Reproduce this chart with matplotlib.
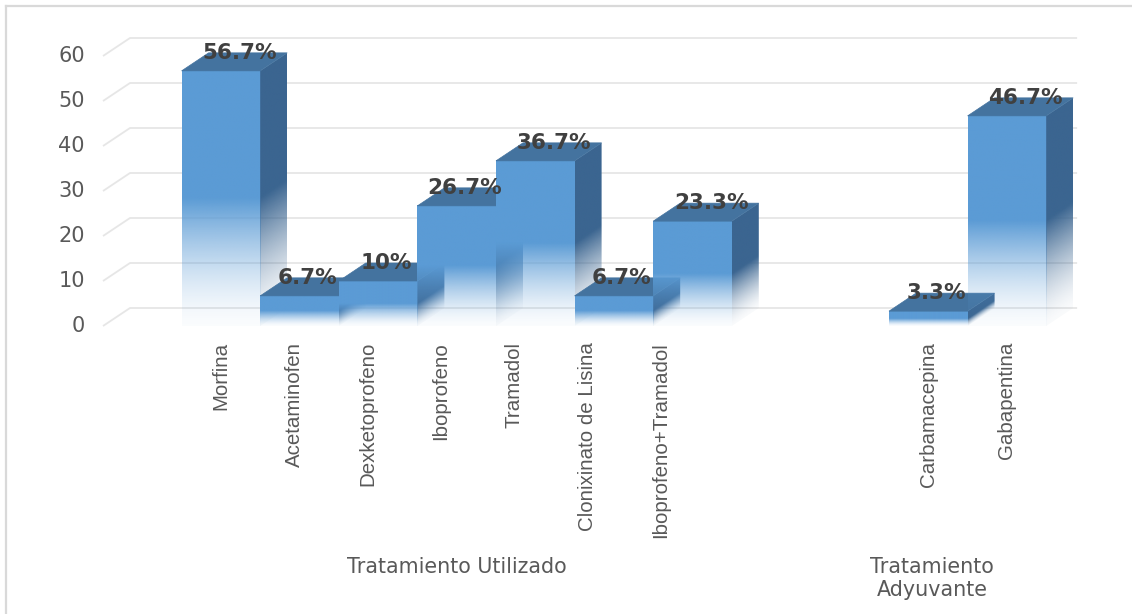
import numpy as np
import matplotlib
matplotlib.use("Agg")
import matplotlib.pyplot as plt
from matplotlib.patches import Polygon
from matplotlib.lines import Line2D
from matplotlib.colors import to_rgb

# ---------------- data ----------------
categories = ["Morfina", "Acetaminofen", "Dexketoprofeno", "Iboprofeno", "Tramadol",
              "Clonixinato de Lisina", "Iboprofeno+Tramadol",
              "Carbamacepina", "Gabapentina"]
values = [56.7, 6.7, 10, 26.7, 36.7, 6.7, 23.3, 3.3, 46.7]
value_labels = ["56.7%", "6.7%", "10%", "26.7%", "36.7%", "6.7%", "23.3%", "3.3%", "46.7%"]
groups = ["Tratamiento Utilizado", "Tratamiento\nAdyuvante"]
group_sizes = [7, 2]
yticks = [0, 10, 20, 30, 40, 50, 60]

# ---------------- layout / style ----------------
W, H, DPI = 1132, 614, 100
SLOT_PX = 78.6          # width of one category slot in pixels
X0_PX = 103             # front-left corner of the plot (px)
Y0_PX = 326             # value 0 on front plane (px from top)
UNIT_PX = 4.5           # pixels per value unit
DX = 27 / SLOT_PX       # depth offset in slot units
DY = 18 / UNIT_PX       # depth offset in value units
GAP_SLOTS = 2

FRONT = np.array(to_rgb("#5B9BD5"))
TOP = "#44739F"
SIDE = np.array(to_rgb("#3B6590"))
GRID = "#E6E6E6"
TXT = "#595959"
LBL = "#404040"

fig = plt.figure(figsize=(W / DPI, H / DPI), dpi=DPI)
ax = fig.add_axes([0, 0, 1, 1])
ax.set_xlim(-X0_PX / SLOT_PX, (W - X0_PX) / SLOT_PX)
ax.set_ylim((Y0_PX - H) / UNIT_PX, Y0_PX / UNIT_PX)
ax.axis("off")

def px_y(p):
    return (Y0_PX - p) / UNIT_PX

# slot positions
positions = []
group_starts = []
slot = 1
for n in group_sizes:
    group_starts.append(slot)
    positions.extend(range(slot, slot + n))
    slot += n + GAP_SLOTS
n_slots = positions[-1] + 1

# gridlines (back wall + left diagonal)
for v in yticks:
    ax.plot([0, DX, n_slots + DX + 0.05], [v, v + DY, v + DY],
            color=GRID, lw=1.3, zorder=1, solid_capstyle="butt")
    ax.text(-0.23, v, f"{v}", ha="right", va="center", fontsize=15,
            color=TXT, family="DejaVu Sans")

def fade(f, base):
    """RGBA gradient: solid on the upper half, fading to transparent below."""
    a = np.where(f >= 0.5, 1.0, np.clip(f / 0.5, 0, 1) ** 1.5)
    a = 0.03 + 0.97 * a
    rgba = np.empty(f.shape + (4,))
    rgba[..., :3] = base
    rgba[..., 3] = a
    return rgba

# bars
for i, (x, v) in enumerate(zip(positions, values)):
    z = 10 + 3 * i
    x1 = x + 1
    # front face
    f = np.linspace(0, 1, 300)[:, None] * np.ones((1, 2))
    ax.imshow(fade(f, FRONT), extent=(x, x1, 0, v), origin="lower", aspect="auto",
              interpolation="bilinear", zorder=z)
    # side face
    side_poly = Polygon([(x1, 0), (x1 + DX, DY), (x1 + DX, v + DY), (x1, v)],
                        closed=True, facecolor="none", edgecolor="none")
    ax.add_patch(side_poly)
    nx, ny = 40, 300
    xs = np.linspace(0, 1, nx)[None, :]
    ys = np.linspace(0, v + DY, ny)[:, None]
    fs = np.clip((ys - DY * xs) / v, 0, 1)
    im = ax.imshow(fade(fs, SIDE), extent=(x1, x1 + DX, 0, v + DY), origin="lower",
                   aspect="auto", interpolation="bilinear", zorder=z + 1)
    im.set_clip_path(side_poly)
    # top face
    ax.add_patch(Polygon([(x, v), (x1, v), (x1 + DX, v + DY), (x + DX, v + DY)],
                         closed=True, facecolor=TOP, edgecolor=TOP, lw=0.5,
                         zorder=z + 2))

# value labels
for i, (x, v, lab) in enumerate(zip(positions, values, value_labels)):
    nxt = values[i + 1] if i + 1 < len(values) and positions[i + 1] == x + 1 else -1
    off = 0.1 if nxt > v else 0.24
    ax.text(x + 0.5 + off, v + 2.6, lab, ha="center", va="baseline",
            fontsize=15.5, fontweight="bold", color=LBL, family="DejaVu Sans",
            zorder=100)

# category labels (rotated)
k = 0
for gi, n in enumerate(group_sizes):
    for j in range(n):
        x = positions[k]
        lx = x + 0.5 - (0.067 * j if n > 2 else 0.0)
        ax.text(lx, px_y(342), categories[k], rotation=90, ha="center", va="top",
                fontsize=14.8, color=TXT, family="Liberation Sans")
        k += 1

# group labels
group_shift = [0.0, -0.45]
for gi, (name, n) in enumerate(zip(groups, group_sizes)):
    gx = group_starts[gi] + n / 2 + group_shift[gi]
    ax.text(gx, px_y(557), name, ha="center", va="top", fontsize=14.9,
            color=TXT, family="DejaVu Sans", linespacing=1.2,
            multialignment="center")

# chart frame (left and top edges visible)
fig.add_artist(Line2D([6 / W, 6 / W], [0, 1 - 6 / H], transform=fig.transFigure,
                      color="#D9D9D9", lw=1.6))
fig.add_artist(Line2D([6 / W, 1.01], [1 - 6 / H, 1 - 6 / H], transform=fig.transFigure,
                      color="#D9D9D9", lw=1.6))

fig.savefig("out.png", dpi=DPI, facecolor="white")
